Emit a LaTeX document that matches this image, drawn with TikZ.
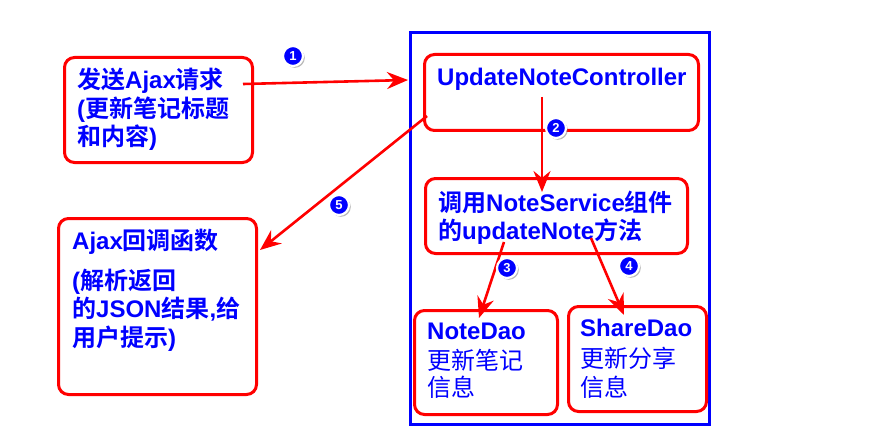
\documentclass[tikz,border=0pt]{standalone}
\usepackage{fontspec}
\setmainfont{Liberation Sans}
\newfontfamily\cjk{Noto Sans CJK SC}[BoldFont={Noto Sans CJK SC Bold}]
\newcommand\zhs[1]{{\cjk #1}}
\usetikzlibrary{arrows.meta,shadows}
\definecolor{rd}{RGB}{255,0,0}
\definecolor{bl}{RGB}{0,0,255}
\begin{document}
\begin{tikzpicture}[x=1pt,y=-1pt,
 box/.style={draw=rd, line width=3pt, rounded corners=10pt, inner sep=0, anchor=north west},
 frame/.style={draw=bl, line width=3pt, inner sep=0, anchor=north west},
 txt/.style={text=bl, font=\fontsize{24}{28}\selectfont\bfseries, inner sep=0, anchor=base west},
 txtr/.style={text=bl, font=\fontsize{24}{28}\selectfont, inner sep=0, anchor=base west},
 arr/.style={draw=rd, line width=2.6pt, -{Stealth[length=21pt,width=17pt,inset=7pt]}},
 badge/.style={circle, fill=bl, draw=white, line width=2.2pt, minimum size=20pt, inner sep=0, text=white,
   font=\fontsize{13}{13}\selectfont\bfseries,
   drop shadow={shadow xshift=1.8pt, shadow yshift=-1.8pt, fill=black!55}}
]
\useasboundingbox (0,0) rectangle (878,433);
% blue frame
\node[frame, minimum width=299pt, minimum height=392pt] (frame) at (409,31) {};
% boxes
\node[box, minimum width=188pt, minimum height=105pt] (A) at (63,56) {};
\node[box, minimum width=274pt, minimum height=76pt] (B) at (423,53) {};
\node[box, minimum width=262pt, minimum height=75pt] (C) at (424,177) {};
\node[box, minimum width=143pt, minimum height=104pt] (D) at (413,309) {};
\node[box, minimum width=138pt, minimum height=105pt] (E) at (567,305) {};
\node[box, minimum width=198pt, minimum height=176pt] (F) at (57,217) {};
% texts
\node[txt] (a1) at (77,89) {\zhs{发送}Ajax\zhs{请求}};
\node[txt] (a2) at (77,118) {(\zhs{更新笔记标题}};
\node[txt] (a3) at (77,146) {\zhs{和内容})};
\node[txt] (b1) at (437,86) {UpdateNoteController};
\node[txt] (c1) at (438,211) {\zhs{调用}NoteService\zhs{组件}};
\node[txt] (c2) at (438,239) {\zhs{的}updateNote\zhs{方法}};
\node[txt] (d1) at (427,339) {NoteDao};
\node[txtr] (d2) at (427,369) {\zhs{更新笔记}};
\node[txtr] (d3) at (427,396) {\zhs{信息}};
\node[txt] (e1) at (580,336) {ShareDao};
\node[txtr] (e2) at (580,367) {\zhs{更新分享}};
\node[txtr] (e3) at (580,396) {\zhs{信息}};
\node[txt] (f1) at (72,249) {Ajax\zhs{回调函数}};
\node[txt] (f2) at (72,289) {(\zhs{解析返回}};
\node[txt] (f3) at (72,317) {\zhs{的}JSON\zhs{结果},\zhs{给}};
\node[txt] (f4) at (72,346) {\zhs{用户提示})};
% connector end points
\coordinate (s1) at (243,84);
\coordinate (t1) at (408,80);
\coordinate (s2) at (542,97);
\coordinate (t2) at (542,192);
\coordinate (s3) at (504,242);
\coordinate (t3) at (479,318);
\coordinate (s4) at (591,238);
\coordinate (t4) at (624,315);
\coordinate (s5) at (427,116);
\coordinate (t5) at (260,250);
\draw[arr] (s1) -- (t1);
\draw[arr] (s2) -- (t2);
\draw[arr] (s3) -- (t3);
\draw[arr] (s4) -- (t4);
\draw[arr] (s5) -- (t5);
% badges
\node[badge] (n1) at (293,56) {1};
\node[badge] (n2) at (556,128) {2};
\node[badge] (n3) at (507,268) {3};
\node[badge] (n4) at (629,266) {4};
\node[badge] (n5) at (339,205) {5};
\end{tikzpicture}
\end{document}
